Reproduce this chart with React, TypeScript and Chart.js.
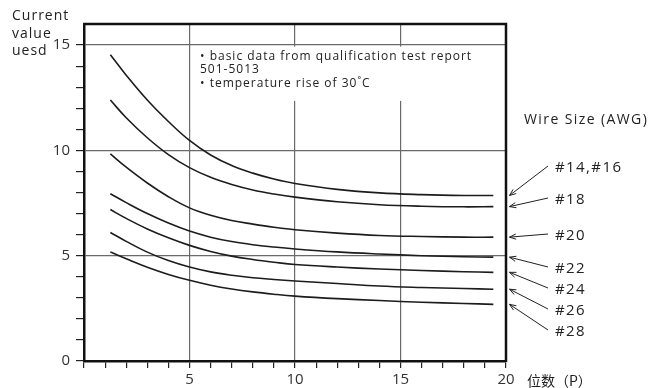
import React, { useEffect, useRef } from 'react';
import { Chart, registerables } from 'chart.js';

Chart.register(...registerables);

// ---- data ----
const positions = [1.25, 2, 3, 4, 5, 6, 7, 8, 9, 10, 12, 14, 16, 18, 19.4];
const awg14_16 = [14.54, 13.57, 12.39, 11.37, 10.47, 9.78, 9.28, 8.92, 8.64, 8.43, 8.15, 7.98, 7.9, 7.86, 7.86];
const awg18 = [12.39, 11.55, 10.6, 9.8, 9.18, 8.72, 8.38, 8.12, 7.93, 7.78, 7.56, 7.42, 7.35, 7.32, 7.33];
const awg20 = [9.83, 9.2, 8.45, 7.8, 7.27, 6.92, 6.67, 6.5, 6.35, 6.23, 6.07, 5.96, 5.91, 5.88, 5.88];
const awg22 = [7.94, 7.52, 7.0, 6.55, 6.17, 5.88, 5.67, 5.52, 5.41, 5.32, 5.18, 5.08, 5.0, 4.95, 4.93];
const awg24 = [7.19, 6.77, 6.27, 5.85, 5.49, 5.2, 4.98, 4.82, 4.69, 4.58, 4.46, 4.37, 4.3, 4.24, 4.21];
const awg26 = [6.1, 5.68, 5.17, 4.77, 4.46, 4.23, 4.07, 3.95, 3.87, 3.8, 3.68, 3.56, 3.49, 3.44, 3.41];
const awg28 = [5.17, 4.85, 4.45, 4.11, 3.83, 3.6, 3.42, 3.28, 3.17, 3.08, 2.96, 2.87, 2.79, 2.73, 2.69];
const wireLabels = ['#14,#16', '#18', '#20', '#22', '#24', '#26', '#28'];
const seriesList = [awg14_16, awg18, awg20, awg22, awg24, awg26, awg28];
const noteLines = ['• basic data from qualification test report', '501-5013', '• temperature rise of 30˚C'];
const yTitleLines = ['Current', 'value', 'uesd'];
const xTitle = '位数（P）';
const legendTitle = 'Wire Size (AWG)';

const FONT = "'Open Sans', 'Noto Sans', sans-serif";
const labelRowY = [168, 200, 236, 269, 290, 311, 332];

function drawArrow(ctx: CanvasRenderingContext2D, x1: number, y1: number, x2: number, y2: number) {
  ctx.beginPath();
  ctx.moveTo(x1, y1);
  ctx.lineTo(x2, y2);
  const a = Math.atan2(y1 - y2, x1 - x2);
  const L = 7;
  const s = 0.38;
  ctx.moveTo(x2 + L * Math.cos(a + s), y2 + L * Math.sin(a + s));
  ctx.lineTo(x2, y2);
  ctx.lineTo(x2 + L * Math.cos(a - s), y2 + L * Math.sin(a - s));
  ctx.stroke();
}

const decor = {
  id: 'decor',
  beforeDraw(chart: any) {
    const { ctx } = chart;
    ctx.save();
    ctx.fillStyle = '#fff';
    ctx.fillRect(0, 0, chart.width, chart.height);
    ctx.restore();
  },
  beforeDatasetsDraw(chart: any) {
    const { ctx } = chart;
    const xs = chart.scales.x;
    const ys = chart.scales.y;
    ctx.save();
    const left = xs.getPixelForValue(5) + 1.5;
    const top = ys.getPixelForValue(15) + 1.5;
    ctx.fillStyle = '#fff';
    ctx.fillRect(left, top, xs.getPixelForValue(19.2) - left, ys.getPixelForValue(12.35) - top);
    ctx.fillStyle = '#222';
    ctx.font = `12px ${FONT}`;
    (ctx as any).letterSpacing = '1px';
    ctx.textBaseline = 'middle';
    ctx.textAlign = 'left';
    noteLines.forEach((t, i) => ctx.fillText(t, left + 9, top + 10 + i * 13.5));
    ctx.restore();
  },
  afterDraw(chart: any) {
    const { ctx, chartArea } = chart;
    const ys = chart.scales.y;
    ctx.save();
    // top & right frame
    ctx.strokeStyle = '#111';
    ctx.lineWidth = 2.5;
    ctx.beginPath();
    ctx.moveTo(chartArea.left - 1, chartArea.top);
    ctx.lineTo(chartArea.right, chartArea.top);
    ctx.lineTo(chartArea.right, chartArea.bottom + 1);
    ctx.stroke();

    ctx.fillStyle = '#222';
    ctx.textAlign = 'left';
    ctx.textBaseline = 'alphabetic';
    ctx.font = `14px ${FONT}`;
    (ctx as any).letterSpacing = '1px';
    yTitleLines.forEach((t, i) => ctx.fillText(t, 12, 20 + i * 17.5));
    (ctx as any).letterSpacing = '1.4px';
    ctx.textBaseline = 'middle';
    ctx.fillText(legendTitle, 524, 120);
    (ctx as any).letterSpacing = '0px';
    ctx.font = `14px 'Noto Sans CJK SC', ${FONT}`;
    ctx.fillText(xTitle, 527, 381);

    ctx.font = `15px ${FONT}`;
    (ctx as any).letterSpacing = '1.4px';
    ctx.strokeStyle = '#222';
    ctx.lineWidth = 1;
    wireLabels.forEach((t, i) => {
      const ly = labelRowY[i];
      ctx.fillText(t, 555, ly);
      const series = seriesList[i];
      const ty = ys.getPixelForValue(series[series.length - 1]);
      drawArrow(ctx, 548, ly - 2, chartArea.right + 3.5, ty);
    });
    ctx.restore();
  },
};

export default function App() {
  const ref = useRef<HTMLCanvasElement>(null);
  useEffect(() => {
    if (!ref.current) return;
    const chart = new Chart(ref.current, {
      type: 'line',
      data: {
        datasets: seriesList.map((s, i) => ({
          label: wireLabels[i],
          data: positions.map((x, j) => ({ x, y: s[j] })),
          borderColor: '#1c1c1c',
          borderWidth: 1.6,
          pointRadius: 0,
          tension: 0.4,
          fill: false,
        })),
      },
      options: {
        animation: false,
        responsive: false,
        devicePixelRatio: 1,
        layout: { padding: { left: 0, top: 24, right: 156, bottom: 0 } },
        plugins: { legend: { display: false }, tooltip: { enabled: false } },
        scales: {
          x: {
            type: 'linear',
            min: 0,
            max: 20,
            afterFit: (s: any) => { s.height = 27; },
            ticks: {
              stepSize: 1,
              autoSkip: false,
              maxRotation: 0,
              padding: 3,
              color: '#333',
              font: { family: FONT, size: 15 },
              callback: (v: any) => (v % 5 === 0 && v !== 0 ? String(v) : ''),
            },
            grid: {
              color: (c: any) => (c.tick && c.tick.value % 5 === 0 && c.tick.value > 0 && c.tick.value < 20 ? '#6a6a6a' : 'rgba(0,0,0,0)'),
              tickColor: '#222',
              tickLength: 7,
              lineWidth: 1.2,
            },
            border: { display: true, color: '#111', width: 2.5 },
          },
          y: {
            type: 'linear',
            min: 0,
            max: 16,
            afterFit: (s: any) => { s.width = 84; },
            ticks: {
              stepSize: 1,
              autoSkip: false,
              padding: 6,
              color: '#333',
              font: { family: FONT, size: 15 },
              callback: (v: any) => (v % 5 === 0 ? String(v) : ''),
            },
            grid: {
              color: (c: any) => (c.tick && c.tick.value % 5 === 0 && c.tick.value > 0 && c.tick.value < 16 ? '#6a6a6a' : 'rgba(0,0,0,0)'),
              tickColor: (c: any) => (c.tick && c.tick.value >= 16 ? 'rgba(0,0,0,0)' : '#222'),
              tickLength: 8,
              lineWidth: 1.2,
            },
            border: { display: true, color: '#111', width: 2.5 },
          },
        },
      },
      plugins: [decor],
    } as any);
    return () => chart.destroy();
  }, []);
  return (
    <div style={{ position: 'fixed', left: 0, top: 0, width: 662, height: 388, background: '#fff' }}>
      <canvas ref={ref} width={662} height={388} style={{ display: 'block' }} />
    </div>
  );
}
